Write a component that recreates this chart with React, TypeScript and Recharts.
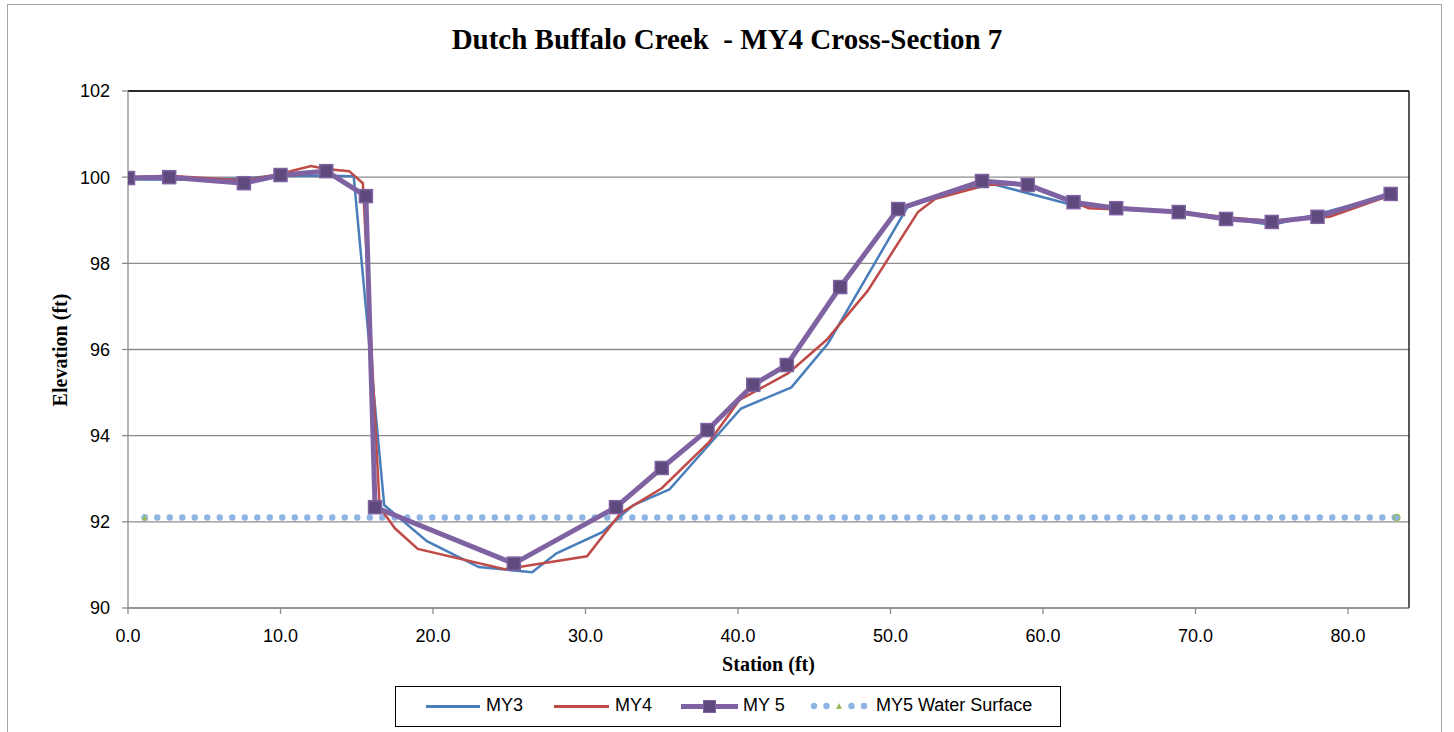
import React from 'react';
import { LineChart, Line, XAxis, YAxis, CartesianGrid, ReferenceLine } from 'recharts';

// ---- data ----
const my3Station = [0.0, 2.7, 7.6, 10.0, 13.0, 14.8, 16.8, 19.6, 23.0, 26.5, 28.1, 31.1, 33.1, 35.5, 40.2, 43.5, 45.9, 51.1, 53.0, 56.5, 62.0, 64.8, 68.9, 72.0, 75.0, 78.0, 82.8];
const my3Elev = [99.95, 99.94, 99.97, 100.04, 100.03, 100.02, 92.39, 91.55, 90.95, 90.83, 91.27, 91.76, 92.38, 92.75, 94.63, 95.12, 96.14, 99.3, 99.53, 99.86, 99.35, 99.3, 99.19, 99.05, 98.89, 99.14, 99.6];

const my4Station = [0.0, 2.7, 7.6, 10.0, 12.0, 13.0, 14.5, 15.4, 16.5, 17.5, 19.0, 24.7, 30.1, 32.3, 35.0, 38.1, 40.1, 43.3, 45.8, 48.5, 51.8, 52.9, 56.3, 59.0, 63.0, 68.9, 72.0, 75.0, 78.8, 82.8];
const my4Elev = [100.0, 100.03, 99.92, 100.08, 100.26, 100.19, 100.14, 99.86, 92.34, 91.85, 91.37, 90.9, 91.2, 92.2, 92.78, 93.85, 94.83, 95.45, 96.22, 97.36, 99.19, 99.49, 99.82, 99.85, 99.28, 99.2, 99.07, 98.98, 99.08, 99.58];

const my5Station = [0.0, 2.7, 7.6, 10.0, 13.0, 15.6, 16.2, 25.3, 32.0, 35.0, 38.0, 41.0, 43.2, 46.7, 50.5, 56.0, 59.0, 62.0, 64.8, 68.9, 72.0, 75.0, 78.0, 82.8];
const my5Elev = [99.98, 100.0, 99.86, 100.05, 100.14, 99.56, 92.34, 91.03, 92.34, 93.25, 94.13, 95.18, 95.64, 97.45, 99.26, 99.91, 99.82, 99.42, 99.28, 99.19, 99.03, 98.96, 99.08, 99.61];

const wsStation = [1.1, 83.2];
const wsElev = [92.1, 92.1];

const xTicks = [0, 10, 20, 30, 40, 50, 60, 70, 80];
const yTicks = [90, 92, 94, 96, 98, 100, 102];

const seriesNames = ['MY3', 'MY4', 'MY 5', 'MY5 Water Surface'];
const chartTitle = 'Dutch Buffalo Creek  - MY4 Cross-Section 7';
const xTitle = 'Station (ft)';
const yTitle = 'Elevation (ft)';

const toPoints = (xs: number[], ys: number[]) => xs.map((x, i) => ({ x, y: ys[i] }));
const my3 = toPoints(my3Station, my3Elev);
const my4 = toPoints(my4Station, my4Elev);
const my5 = toPoints(my5Station, my5Elev);
const ws = toPoints(wsStation, wsElev);

const BLUE = '#4A7EBB';
const RED = '#BE4B48';
const PURPLE = '#7F62A1';
const PURPLE_DARK = '#5E4A7C';
const WS_BLUE = '#8DB4E2';
const GREEN = '#9BBB59';

const sans = '"Liberation Sans", Arial, sans-serif';
const serif = '"Liberation Serif", "Times New Roman", serif';

const SquareDot = (props: any) => {
  const { cx, cy, index } = props;
  if (cx == null || cy == null) return <g key={index} />;
  return (
    <rect key={index} x={cx - 6.5} y={cy - 6.5} width={13} height={13} fill={PURPLE_DARK} stroke={PURPLE} strokeWidth={1.5} />
  );
};

const WsDot = (props: any) => {
  const { cx, cy, index } = props;
  if (cx == null || cy == null) return <g key={index} />;
  if (index === 0) {
    return (
      <g key={index}>
        <circle cx={cx} cy={cy} r={3.2} fill={WS_BLUE} />
        <path d={`M${cx - 3},${cy + 3} L${cx},${cy - 3} L${cx + 3},${cy + 3} Z`} fill={GREEN} />
      </g>
    );
  }
  return (
    <g key={index}>
      <circle cx={cx} cy={cy} r={3.2} fill={WS_BLUE} stroke={GREEN} strokeWidth={1.2} />
    </g>
  );
};

const LegendDots = () => (
  <svg width={60} height={12} style={{ position: 'absolute', left: 0, top: 0, overflow: 'visible' }}>
    {[0, 1, 2, 3, 4].map((i) =>
      i === 2 ? (
        <path key={i} d={`M${3 + i * 12.5 - 3},9 L${3 + i * 12.5},3 L${3 + i * 12.5 + 3},9 Z`} fill={GREEN} />
      ) : (
        <circle key={i} cx={3 + i * 12.5} cy={6} r={3.2} fill={WS_BLUE} />
      )
    )}
  </svg>
);

export default function App() {
  return (
    <div style={{ position: 'absolute', left: 0, top: 0, width: 1454, height: 732, overflow: 'hidden', background: '#fff' }}>
      {/* outer chart frame */}
      <div style={{ position: 'absolute', left: 7, top: 4, width: 1435, height: 740, border: '1.5px solid #a6a6a6', boxSizing: 'border-box' }} />

      {/* title */}
      <div style={{ position: 'absolute', left: 0, top: 22, width: 1454, textAlign: 'center', fontFamily: serif, fontWeight: 'bold', fontSize: 29, whiteSpace: 'pre', color: '#000', lineHeight: '34px' }}>
        {chartTitle}
      </div>

      <div style={{ position: 'absolute', left: 0, top: 0 }}>
        <LineChart width={1454} height={732} margin={{ top: 91, right: 45, bottom: 94, left: 68 }}>
          <CartesianGrid horizontal vertical={false} stroke="#8c8c8c" strokeWidth={1.3} />
          <XAxis
            type="number"
            dataKey="x"
            domain={[0, 84]}
            ticks={xTicks}
            allowDataOverflow
            tickFormatter={(v: number) => v.toFixed(1)}
            stroke="#8c8c8c"
            strokeWidth={1.3}
            tickSize={6}
            tickMargin={15}
            height={30}
            tick={{ fill: '#000', fontSize: 18, fontFamily: sans }}
          />
          <YAxis
            type="number"
            dataKey="y"
            domain={[90, 102]}
            ticks={yTicks}
            allowDataOverflow
            stroke="#8c8c8c"
            strokeWidth={1.3}
            tickSize={6}
            tickMargin={12}
            width={60}
            tick={{ fill: '#000', fontSize: 18, fontFamily: sans }}
          />
          <ReferenceLine y={102} stroke="#000" strokeWidth={1.3} />
          <ReferenceLine x={84} stroke="#000" strokeWidth={1.3} />
          <Line data={ws} dataKey="y" name={seriesNames[3]} type="linear" stroke={WS_BLUE} strokeWidth={6.4} strokeDasharray="0 12.5" strokeLinecap="round" dot={WsDot} activeDot={false} isAnimationActive={false} />
          <Line data={my3} dataKey="y" name={seriesNames[0]} type="linear" stroke={BLUE} strokeWidth={2.5} dot={false} activeDot={false} isAnimationActive={false} />
          <Line data={my4} dataKey="y" name={seriesNames[1]} type="linear" stroke={RED} strokeWidth={2.5} dot={false} activeDot={false} isAnimationActive={false} />
          <Line data={my5} dataKey="y" name={seriesNames[2]} type="linear" stroke={PURPLE} strokeWidth={5} strokeLinejoin="round" dot={SquareDot} activeDot={false} isAnimationActive={false} />
        </LineChart>
      </div>

      {/* axis titles */}
      <div style={{ position: 'absolute', left: 0, top: 652, width: 1537, textAlign: 'center', fontFamily: serif, fontWeight: 'bold', fontSize: 20, color: '#000', lineHeight: '24px' }}>
        {xTitle}
      </div>
      <div style={{ position: 'absolute', left: 60, top: 350, width: 0, height: 0 }}>
        <div style={{ position: 'absolute', left: -100, top: -12, width: 200, textAlign: 'center', transform: 'rotate(-90deg)', fontFamily: serif, fontWeight: 'bold', fontSize: 20, color: '#000', lineHeight: '24px' }}>
          {yTitle}
        </div>
      </div>

      {/* legend */}
      <div style={{ position: 'absolute', left: 395, top: 686, width: 666, height: 41, border: '1.3px solid #000', boxSizing: 'border-box', fontFamily: sans, fontSize: 18, color: '#000' }}>
        <div style={{ position: 'absolute', left: 30, top: 18, width: 54, height: 2.5, background: BLUE }} />
        <div style={{ position: 'absolute', left: 90, top: 7, lineHeight: '22px' }}>{seriesNames[0]}</div>
        <div style={{ position: 'absolute', left: 158, top: 18, width: 55, height: 2.5, background: RED }} />
        <div style={{ position: 'absolute', left: 219, top: 7, lineHeight: '22px' }}>{seriesNames[1]}</div>
        <div style={{ position: 'absolute', left: 285, top: 17, width: 57, height: 5, background: PURPLE }} />
        <div style={{ position: 'absolute', left: 307, top: 13, width: 13, height: 13, background: PURPLE_DARK, border: `1.5px solid ${PURPLE}`, boxSizing: 'border-box' }} />
        <div style={{ position: 'absolute', left: 347, top: 7, lineHeight: '22px' }}>{seriesNames[2]}</div>
        <div style={{ position: 'absolute', left: 415, top: 13, width: 60, height: 12 }}>
          <LegendDots />
        </div>
        <div style={{ position: 'absolute', left: 480, top: 7, lineHeight: '22px' }}>{seriesNames[3]}</div>
      </div>
    </div>
  );
}
